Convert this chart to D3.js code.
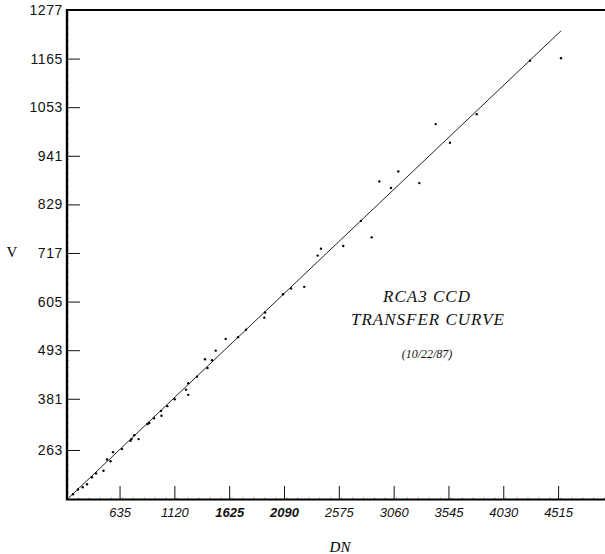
<!DOCTYPE html>
<html>
<head>
<meta charset="utf-8">
<script src="https://cdn.jsdelivr.net/npm/d3@7"></script>
<style>
  body { margin: 0; background: #fff; }
  svg { display: block; }
</style>
</head>
<body>
<svg id="chart" width="605" height="554"></svg>
<script>
// measured points (DN, V)
var dn = [223, 267, 309, 347, 391, 427, 493, 524, 555, 577, 657, 732, 741, 765, 803,
          882, 898, 940, 1002, 1006, 1057, 1123, 1223, 1243, 1243, 1320, 1391, 1413, 1453, 1486,
          1574, 1683, 1754, 1916, 1922, 2081, 2152, 2269, 2388, 2417, 2614, 2771, 2866, 2933,
          3037, 3101, 3287, 3432, 3558, 3795, 4266, 4541];
var v  = [161, 172, 177, 184, 200, 209, 215, 241, 237, 258, 265, 284, 288, 297, 288,
          323, 325, 336, 353, 342, 364, 380, 402, 417, 390, 432, 472, 452, 470, 492,
          519, 523, 540, 568, 580, 622, 635, 639, 711, 727, 733, 791, 753, 882,
          867, 905, 878, 1014, 971, 1037, 1160, 1166];

// fitted transfer line
var fitDN = [179, 4541];
var fitV  = [151, 1229];

var xTicks = [635, 1120, 1605, 2090, 2575, 3060, 3545, 4030, 4515];
var xTickLabels = ["635", "1120", "1625", "2090", "2575", "3060", "3545", "4030", "4515"];
var yTicks = [263, 381, 493, 605, 717, 829, 941, 1053, 1165, 1277];

var svg = d3.select("#chart");

var x = d3.scaleLinear().domain([170, 4930]).range([67, 605]);
var y = d3.scaleLinear().domain([150, 1277]).range([499, 10]);

// minor ticks
var xMinor = d3.range(170, 4930, 97);
var yMinor = d3.range(150, 1277, 16);

svg.append("g")
    .attr("transform", "translate(0,499)")
    .call(d3.axisBottom(x).tickValues(xMinor).tickSize(-2).tickFormat(""))
    .call(function(g) { g.select(".domain").remove(); })
    .selectAll("line").attr("stroke", "#999").attr("stroke-width", 0.7);

svg.append("g")
    .attr("transform", "translate(67,0)")
    .call(d3.axisLeft(y).tickValues(yMinor).tickSize(-2).tickFormat(""))
    .call(function(g) { g.select(".domain").remove(); })
    .selectAll("line").attr("stroke", "#999").attr("stroke-width", 0.7);

// major axes
var xAxis = svg.append("g")
    .attr("transform", "translate(0,499)")
    .call(d3.axisBottom(x)
        .tickValues(xTicks)
        .tickSize(-13)
        .tickPadding(9)
        .tickFormat(function(d, i) { return xTickLabels[i]; }));
xAxis.select(".domain").remove();
xAxis.selectAll("line").attr("stroke", "#111").attr("stroke-width", 1);
xAxis.selectAll("text")
    .style("font-family", "'Liberation Sans', Arial, sans-serif")
    .style("font-style", "italic")
    .style("font-size", "13px")
    .style("font-weight", function(d, i) { return (i == 2 || i == 3) ? "bold" : "normal"; })
    .attr("fill", "#111");

var yAxis = svg.append("g")
    .attr("transform", "translate(67,0)")
    .call(d3.axisLeft(y)
        .tickValues(yTicks)
        .tickSize(-13)
        .tickPadding(4)
        .tickFormat(d3.format("d")));
yAxis.select(".domain").remove();
yAxis.selectAll("line").attr("stroke", "#111").attr("stroke-width", 1);
yAxis.selectAll("text")
    .style("font-family", "'Liberation Sans', Arial, sans-serif")
    .style("font-size", "14px")
    .style("letter-spacing", "0.6px")
    .attr("fill", "#111");

// frame
svg.append("line").attr("x1", 67).attr("x2", 67).attr("y1", 9).attr("y2", 500)
    .attr("stroke", "#000").attr("stroke-width", 2.4);
svg.append("line").attr("x1", 66).attr("x2", 605).attr("y1", 499.5).attr("y2", 499.5)
    .attr("stroke", "#000").attr("stroke-width", 2);
svg.append("line").attr("x1", 66).attr("x2", 605).attr("y1", 10).attr("y2", 10)
    .attr("stroke", "#000").attr("stroke-width", 2.2);

// fitted line
var line = d3.line()
    .x(function(d) { return x(d[0]); })
    .y(function(d) { return y(d[1]); });
svg.append("path")
    .datum(fitDN.map(function(d, i) { return [d, fitV[i]]; }))
    .attr("d", line)
    .attr("fill", "none")
    .attr("stroke", "#222")
    .attr("stroke-width", 1);

// data points
svg.selectAll("circle.pt")
    .data(dn)
    .enter()
    .append("circle")
    .attr("class", "pt")
    .attr("cx", function(d) { return x(d); })
    .attr("cy", function(d, i) { return y(v[i]); })
    .attr("r", 1.2)
    .attr("fill", "#000");

// axis titles
svg.append("text")
    .attr("x", 12).attr("y", 257)
    .attr("text-anchor", "middle")
    .style("font-family", "'Liberation Serif', 'Times New Roman', serif")
    .style("font-size", "15px")
    .text("V");
svg.append("text")
    .attr("x", 340).attr("y", 552)
    .attr("text-anchor", "middle")
    .style("font-family", "'Liberation Serif', 'Times New Roman', serif")
    .style("font-style", "italic")
    .style("font-size", "15px")
    .text("DN");

// annotation
var note = svg.append("g")
    .style("font-family", "'Liberation Serif', 'Times New Roman', serif")
    .style("font-style", "italic")
    .attr("text-anchor", "middle")
    .attr("fill", "#111");
note.append("text").attr("x", 427).attr("y", 302)
    .style("font-size", "17px").style("letter-spacing", "1px").text("RCA3  CCD");
note.append("text").attr("x", 428).attr("y", 325)
    .style("font-size", "17px").style("letter-spacing", "1px").text("TRANSFER  CURVE");
note.append("text").attr("x", 427).attr("y", 358)
    .style("font-size", "12px").text("(10/22/87)");
</script>
</body>
</html>
